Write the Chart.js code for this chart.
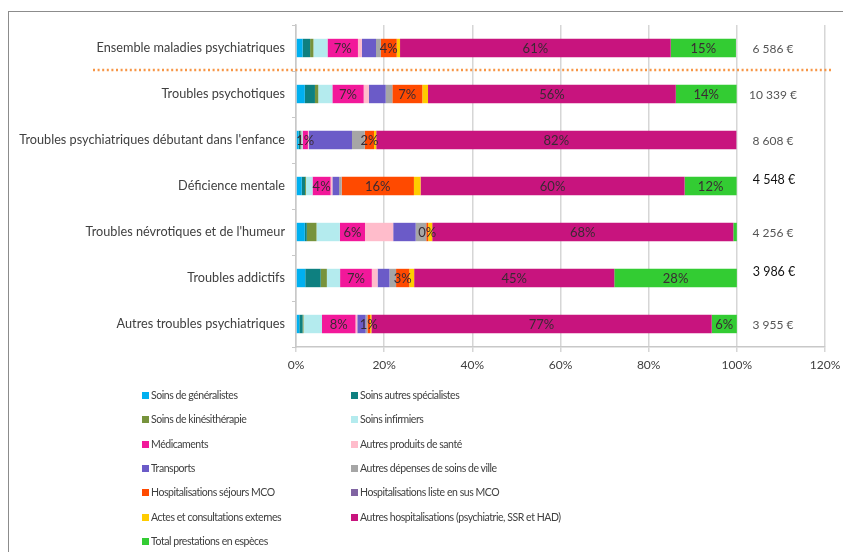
<!DOCTYPE html>
<html>
<head>
<meta charset="utf-8">
<script src="https://cdn.jsdelivr.net/npm/chart.js"></script>
<style>
  body { margin: 0; background: #fff; font-family: Lato, sans-serif; }
  #wrap { position: relative; width: 843px; height: 552px; overflow: hidden; }
  #frame { position: absolute; left: 8px; top: 11px; width: 900px; height: 600px; border: 1.5px solid #8c8c8c; box-sizing: border-box; }
  canvas { position: absolute; left: 0; top: 0; }
  .leg { position: absolute; font-size: 10.5px; letter-spacing: -0.45px; color: #404040; white-space: nowrap; line-height: 12px; }
  .leg i { display: inline-block; width: 7px; height: 7px; margin-right: 2px; vertical-align: 0px; }
</style>
</head>
<body>
<div id="wrap">
  <div id="frame"></div>
  <canvas id="chart" width="843" height="552"></canvas>
  <div id="legend"></div>
</div>
<script>
// Categories (top to bottom)
const categories = [
  "Ensemble maladies psychiatriques",
  "Troubles psychotiques",
  "Troubles psychiatriques débutant dans l'enfance",
  "Déficience mentale",
  "Troubles névrotiques et de l'humeur",
  "Troubles addictifs",
  "Autres troubles psychiatriques"
];

// Share of total spending per item (%)
const generalistes   = [1.5, 2.0, 0.6, 1.3, 2.0, 2.1, 0.75];
const specialistes   = [1.7, 2.3, 0.4, 0.75, 0.45, 3.5, 0.75];
const kine           = [0.75, 0.75, 0.2, 0.2, 2.2, 1.4, 0.2];
const infirmiers     = [3.2, 3.2, 0.3, 1.5, 5.3, 3.0, 4.2];
const medicaments    = [6.9, 7.1, 1.2, 4.1, 5.7, 7.2, 7.6];
const autresProduits = [0.9, 1.2, 0.2, 0.4, 6.4, 1.3, 0.4];
const transports     = [3.2, 3.8, 9.8, 1.5, 5.1, 2.7, 1.9];
const autresDepenses = [1.1, 1.5, 2.9, 0.6, 2.4, 1.5, 0.4];
const sejoursMco     = [3.6, 6.8, 2.1, 16.4, 0.45, 3.0, 0.6];
const listeEnSus     = [0, 0, 0, 0, 0, 0, 0];
const actesExternes  = [0.75, 1.3, 0.5, 1.5, 0.9, 1.1, 0.3];
const autresHosp     = [61.4, 56.2, 81.7, 59.9, 68.3, 45.4, 77.2];
const especes        = [14.8, 13.8, 0, 11.8, 0.8, 27.8, 5.7];

// Labels shown inside bars
const medicamentsLabels = ["7%", "7%", "1%", "4%", "6%", "7%", "8%"];
const mcoLabels         = ["4%", "7%", "2%", "16%", "0%", "3%", "1%"];
const autresHospLabels  = ["61%", "56%", "82%", "60%", "68%", "45%", "77%"];
const especesLabels     = ["15%", "14%", "", "12%", "", "28%", "6%"];

// Average cost per patient
const costs = ["6 586 €", "10 339 €", "8 608 €", "4 548 €", "4 256 €", "3 986 €", "3 955 €"];

const xTicks = [0, 20, 40, 60, 80, 100, 120];

const series = [
  { label: "Soins de généralistes", data: generalistes, color: "#00B0F0" },
  { label: "Soins autres spécialistes", data: specialistes, color: "#0E8080" },
  { label: "Soins de kinésithérapie", data: kine, color: "#77933C" },
  { label: "Soins infirmiers", data: infirmiers, color: "#B4EBEE" },
  { label: "Médicaments", data: medicaments, color: "#F2189A", labels: medicamentsLabels },
  { label: "Autres produits de santé", data: autresProduits, color: "#FFBCCB" },
  { label: "Transports", data: transports, color: "#6B5BC8" },
  { label: "Autres dépenses de soins de ville", data: autresDepenses, color: "#A6A6A6" },
  { label: "Hospitalisations séjours MCO", data: sejoursMco, color: "#FF4A00", labels: mcoLabels },
  { label: "Hospitalisations liste en sus MCO", data: listeEnSus, color: "#8064A2" },
  { label: "Actes et consultations externes", data: actesExternes, color: "#FFCC00" },
  { label: "Autres hospitalisations (psychiatrie, SSR et HAD)", data: autresHosp, color: "#C8147E", labels: autresHospLabels },
  { label: "Total prestations en espèces", data: especes, color: "#33CC33", labels: especesLabels }
];

// costs drawn in black and slightly higher in the original
const darkCosts = [3, 5];

const overlay = {
  id: "overlay",
  afterDatasetsDraw(chart) {
    const ctx = chart.ctx;
    const yScale = chart.scales.y;
    ctx.save();
    // in-bar labels
    ctx.font = "13px Lato";
    ctx.fillStyle = "#3a2a33";
    ctx.textAlign = "center";
    ctx.textBaseline = "middle";
    chart.data.datasets.forEach((ds, di) => {
      if (!ds.valueLabels) return;
      chart.getDatasetMeta(di).data.forEach((bar, i) => {
        const t = ds.valueLabels[i];
        if (!t) return;
        ctx.fillText(t, (bar.x + bar.base) / 2, bar.y + 1);
      });
    });
    // costs at the right
    categories.forEach((c, i) => {
      const y = yScale.getPixelForValue(i);
      if (darkCosts.includes(i)) {
        ctx.font = "12.5px Lato";
        ctx.fillStyle = "#111";
        ctx.fillText(costs[i], 774, y - 6);
      } else {
        ctx.font = "12px Lato";
        ctx.fillStyle = "#555";
        ctx.fillText(costs[i], 773, y + 1);
      }
    });
    // dotted separator under the first row
    const ySep = (yScale.getPixelForValue(0) + yScale.getPixelForValue(1)) / 2 - 1;
    ctx.strokeStyle = "#F79646";
    ctx.lineWidth = 2.5;
    ctx.setLineDash([2, 2.6]);
    ctx.beginPath();
    ctx.moveTo(93, ySep);
    ctx.lineTo(831, ySep);
    ctx.stroke();
    ctx.restore();
  }
};

const ctx = document.getElementById("chart").getContext("2d");
new Chart(ctx, {
  type: "bar",
  data: {
    labels: categories,
    datasets: series.map(s => ({
      label: s.label,
      data: s.data,
      backgroundColor: s.color,
      borderWidth: 0,
      barPercentage: 0.4,
      categoryPercentage: 1,
      valueLabels: s.labels
    }))
  },
  options: {
    indexAxis: "y",
    responsive: false,
    animation: false,
    layout: { padding: { top: 25, right: 18, left: 0, bottom: 0 } },
    plugins: { legend: { display: false }, tooltip: { enabled: false } },
    scales: {
      x: {
        stacked: true,
        min: 0,
        max: 120,
        afterBuildTicks: s => { s.ticks = xTicks.map(v => ({ value: v })); },
        afterFit: s => { s.height = 205; s.paddingRight = 0; s.paddingLeft = 0; },
        ticks: { callback: v => v + "%", font: { family: "Lato", size: 12 }, color: "#404040", padding: 6, maxRotation: 0 },
        grid: { color: "#d6d6d6", lineWidth: 1.5, tickLength: 5 },
        border: { color: "#c8c8c8", width: 1.5 }
      },
      y: {
        stacked: true,
        afterFit: s => { s.width = 296; },
        ticks: { font: { family: "Lato", size: 12.7 }, color: "#404040", padding: 7 },
        grid: { drawOnChartArea: false, tickLength: 4, color: "#c8c8c8", offset: true },
        border: { color: "#c8c8c8", width: 1.5 }
      }
    }
  },
  plugins: [overlay]
});

// two-column legend
const legend = document.getElementById("legend");
series.forEach((s, i) => {
  const col = i % 2, row = Math.floor(i / 2);
  const el = document.createElement("div");
  el.className = "leg";
  el.style.left = (col ? 351 : 142) + "px";
  el.style.top = (389 + row * 24.3) + "px";
  el.innerHTML = '<i style="background:' + s.color + '"></i>' + s.label;
  legend.appendChild(el);
});
</script>
</body>
</html>
